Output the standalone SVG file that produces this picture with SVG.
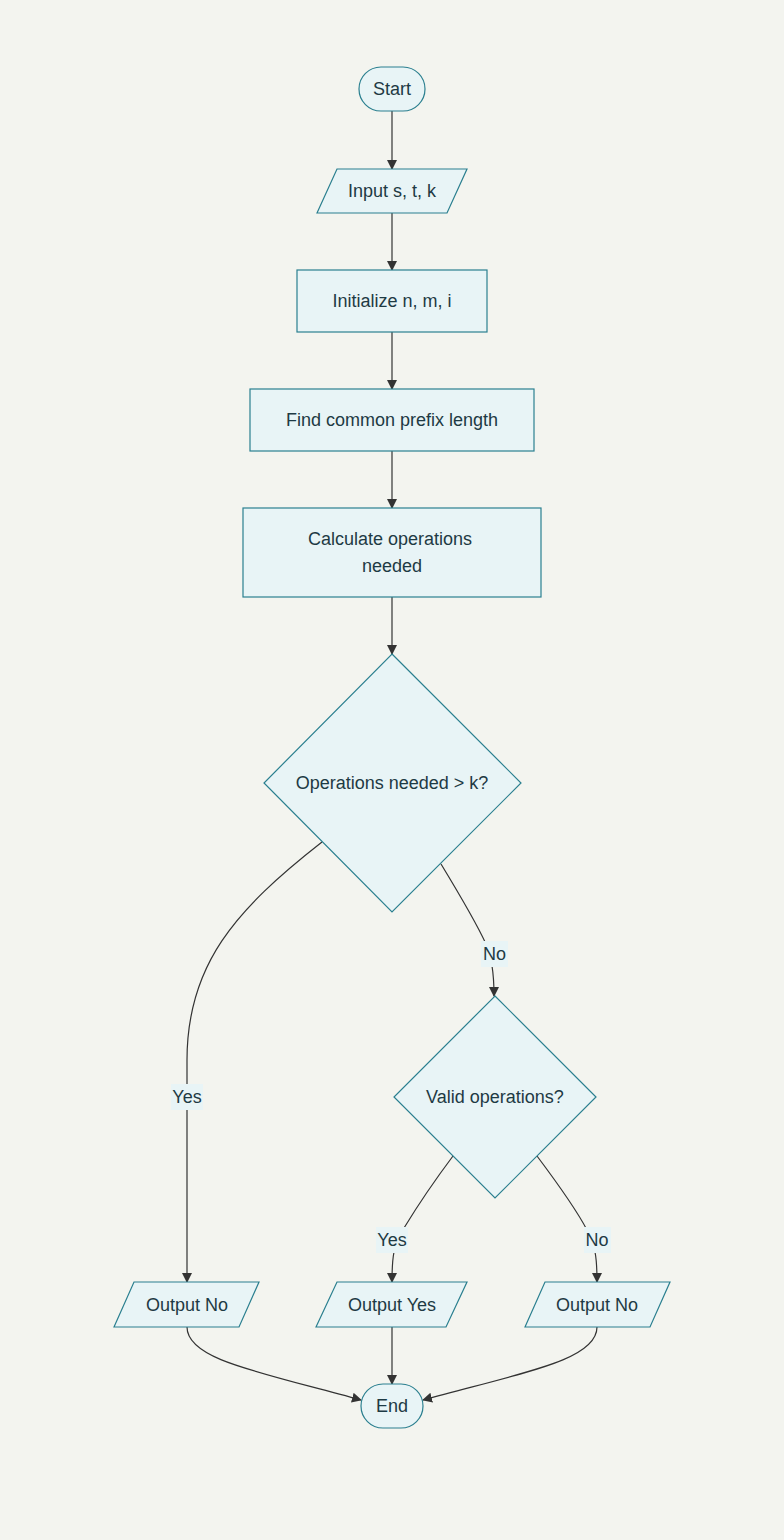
<svg xmlns="http://www.w3.org/2000/svg" width="784" height="1540" viewBox="0 0 784 1540">
<defs>
<style>
.node{fill:#e8f4f6;stroke:#2a7f8f;stroke-width:1.2}
.t{font-family:"Liberation Sans",Arial,sans-serif;font-size:18px;fill:#1e3a44;text-anchor:middle;dominant-baseline:central}
.e{fill:none;stroke:#333;stroke-width:1.2}
.lb{fill:#e8f4f6}
</style>
<marker id="ah" viewBox="0 0 10 10" refX="9" refY="5" markerWidth="10" markerHeight="10" markerUnits="userSpaceOnUse" orient="auto">
<path d="M0,0 L10,5 L0,10 z" fill="#333"/>
</marker>
</defs>
<rect width="784" height="1540" fill="#f3f4ef"/>
<g id="edges">
<path class="e" d="M392,111 L392,169" marker-end="url(#ah)"/>
<path class="e" d="M392,213 L392,270" marker-end="url(#ah)"/>
<path class="e" d="M392,332 L392,389" marker-end="url(#ah)"/>
<path class="e" d="M392,451 L392,508" marker-end="url(#ah)"/>
<path class="e" d="M392,597 L392,654" marker-end="url(#ah)"/>
<path class="e" d="M322,842 C235,910 187,965 187,1060 L187,1282" marker-end="url(#ah)"/>
<path class="e" d="M441,864 C458,892 475,920 486,944 M492,966 C494,978 494,986 494,996" marker-end="url(#ah)"/>
<path class="e" d="M453,1156 C435,1180 418,1205 404,1228 M394,1252 C392,1262 392,1270 392,1282" marker-end="url(#ah)"/>
<path class="e" d="M537,1156 C555,1180 575,1207 587,1230 M595,1252 C597,1262 597,1270 597,1282" marker-end="url(#ah)"/>
<path class="e" d="M187,1327 C187,1360 260,1372 361,1400" marker-end="url(#ah)"/>
<path class="e" d="M392,1327 L392,1384" marker-end="url(#ah)"/>
<path class="e" d="M597,1327 C597,1360 525,1372 423,1400" marker-end="url(#ah)"/>
</g>
<g id="edge-labels">
<rect class="lb" x="171" y="1084" width="32" height="26"/>
<text class="t" x="187" y="1097">Yes</text>
<rect class="lb" x="481" y="941" width="27" height="26"/>
<text class="t" x="494.5" y="954">No</text>
<rect class="lb" x="376" y="1227" width="32" height="26"/>
<text class="t" x="392" y="1240">Yes</text>
<rect class="lb" x="584" y="1227" width="27" height="26"/>
<text class="t" x="597" y="1240">No</text>
</g>
<g id="start">
<rect class="node" x="359" y="67" width="66" height="44" rx="22"/>
<text class="t" x="392" y="89">Start</text>
</g>
<g id="input">
<polygon class="node" points="317,213 337,169 467,169 447,213"/>
<text class="t" x="392" y="191">Input s, t, k</text>
</g>
<g id="init">
<rect class="node" x="297" y="270" width="190" height="62"/>
<text class="t" x="392" y="301">Initialize n, m, i</text>
</g>
<g id="prefix">
<rect class="node" x="250" y="389" width="284" height="62"/>
<text class="t" x="392" y="420">Find common prefix length</text>
</g>
<g id="calc">
<rect class="node" x="243" y="508" width="298" height="89"/>
<text class="t" x="390" y="539">Calculate operations</text>
<text class="t" x="392" y="566">needed</text>
</g>
<g id="decision1">
<polygon class="node" points="392,654 521,783 392,912 264,783"/>
<text class="t" x="392" y="783">Operations needed &gt; k?</text>
</g>
<g id="decision2">
<polygon class="node" points="495,996 596,1097 495,1198 394,1097"/>
<text class="t" x="495" y="1097">Valid operations?</text>
</g>
<g id="outNo1">
<polygon class="node" points="114,1327 134,1282 259,1282 239,1327"/>
<text class="t" x="187" y="1305">Output No</text>
</g>
<g id="outYes">
<polygon class="node" points="316,1327 337,1282 467,1282 446,1327"/>
<text class="t" x="392" y="1305">Output Yes</text>
</g>
<g id="outNo2">
<polygon class="node" points="525,1327 545,1282 670,1282 650,1327"/>
<text class="t" x="597" y="1305">Output No</text>
</g>
<g id="end">
<rect class="node" x="361" y="1384" width="62" height="44" rx="22"/>
<text class="t" x="392" y="1406">End</text>
</g>
</svg>
